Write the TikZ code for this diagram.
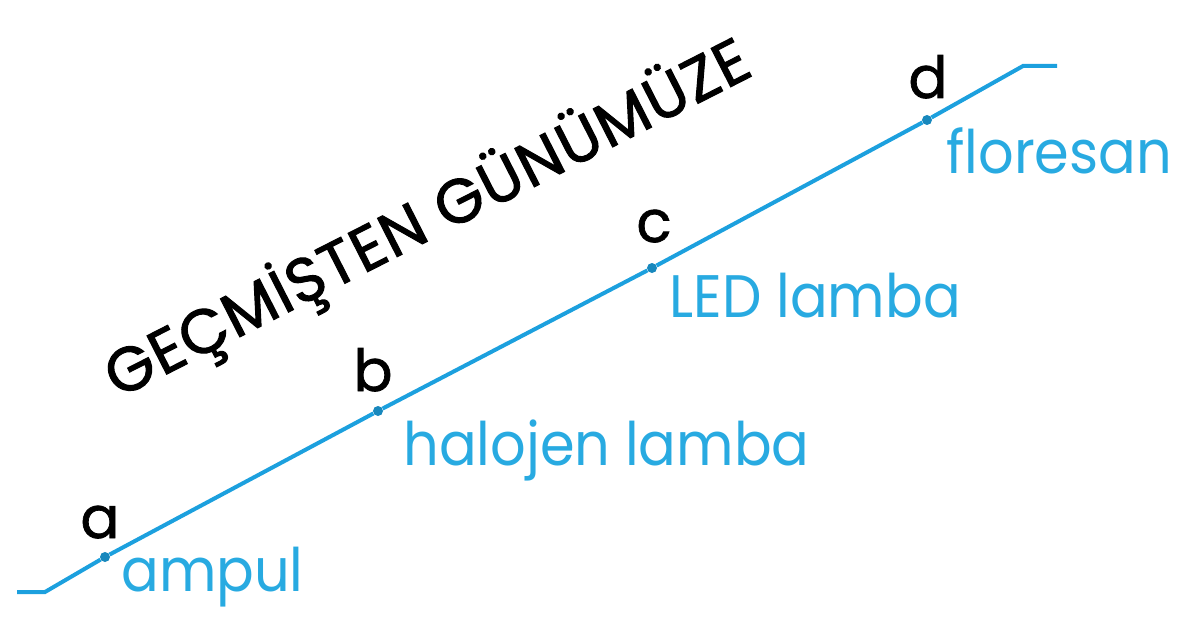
\documentclass[tikz,border=0pt]{standalone}
\usepackage{fontspec}
\setmainfont{Poppins}
\newfontfamily\titlefont[FakeBold=1.6,LetterSpace=2]{Poppins}
\newfontfamily\letterfont[FakeBold=1.2]{Poppins}
\definecolor{lineblue}{RGB}{28,160,222}
\definecolor{textblue}{RGB}{40,170,225}
\begin{document}
\begin{tikzpicture}[x=1pt,y=-1pt,
    dot/.style={circle,fill=lineblue!85!black,inner sep=0pt,minimum size=10pt},
    letter/.style={anchor=base,font=\letterfont\fontsize{58}{58}\selectfont},
    lamp/.style={anchor=base west,xscale=0.93,text=textblue,font=\fontsize{60}{60}\selectfont}]
    \useasboundingbox (0,0) rectangle (1180,631);
    % time line
    \coordinate (tl) at (17,592);
    \coordinate (s0) at (45,592);
    \coordinate (s1) at (1023,66);
    \coordinate (tr) at (1057,66);
    \node[dot] (a) at (105,557) {};
    \node[dot] (b) at (378,411) {};
    \node[dot] (c) at (652,268) {};
    \node[dot] (d) at (927,120) {};
    \draw[lineblue,line width=4pt] (tl) -- (s0) -- (a) -- (b) -- (c) -- (d) -- (s1) -- (tr);
    % letters
    \node[letter] (la) at (100,538) {a};
    \node[letter] (lb) at (373,391) {b};
    \node[letter] (lc) at (654,242) {c};
    \node[letter] (ld) at (928,98) {d};
    % lamps
    \node[lamp] (pa) at (118,591) {ampul};
    \node[lamp] (pb) at (400,465) {halojen lamba};
    \node[lamp] (pc) at (666,317) {LED lamba};
    \node[lamp] (pd) at (943,174) {floresan};
    % title
    \node[rotate=27,font=\titlefont\fontsize{62}{62}\selectfont] (title) at (428,220) {GEÇMİŞTEN GÜNÜMÜZE};
\end{tikzpicture}
\end{document}
